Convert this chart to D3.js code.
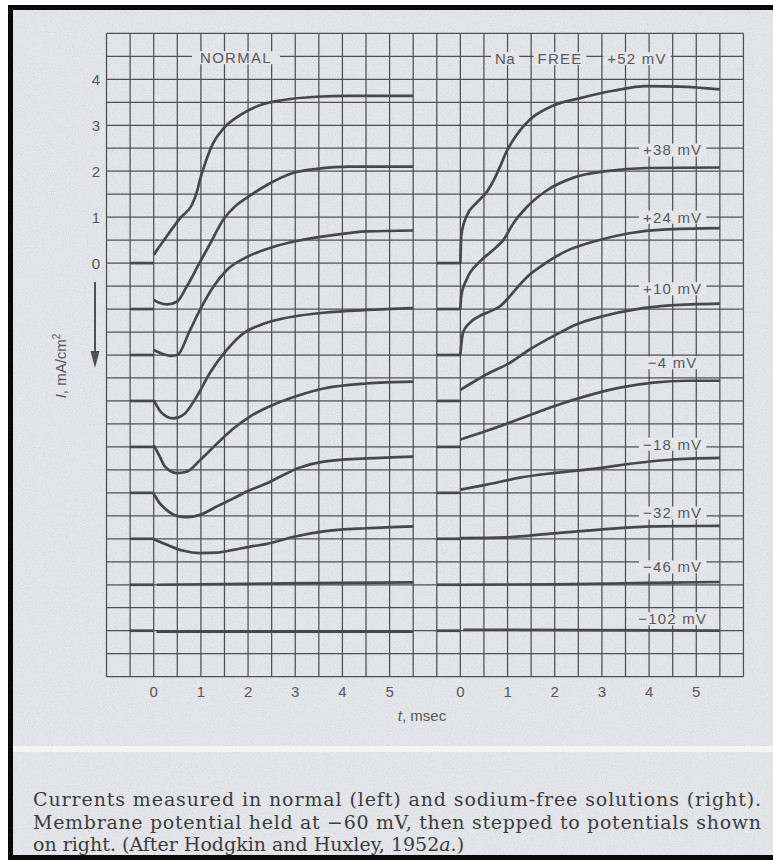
<!DOCTYPE html>
<meta charset="utf-8">
<script src="https://cdn.jsdelivr.net/npm/d3@7/dist/d3.min.js"></script>
<style>
body { margin: 0; background: #fff; }
.grid line { stroke: #505052; stroke-width: 1.25; }
.trace { fill: none; stroke: #48484a; stroke-width: 2.7; stroke-linecap: butt; }
.lab { font-family: "Liberation Sans", Arial, sans-serif; font-size: 15px; fill: #58585a; }
.caption { font-family: "DejaVu Serif", serif; fill: #3c3c3e; }
</style>
<body></body>
<script>
// step potentials, top to bottom
var potentials = ["+52 mV", "+38 mV", "+24 mV", "+10 mV", "\u22124 mV", "\u221218 mV", "\u221232 mV", "\u221246 mV", "\u2212102 mV"];
// baseline of each trace on the current axis (mA/cm2)
var offsets = [0, -1, -2, -3, -4, -5, -6, -7, -8];
var xTicks = [0, 1, 2, 3, 4, 5];
var yTicks = [0, 1, 2, 3, 4];

// [t msec, current above baseline]
var normal = [
  [[0,0.18],[0.28,0.59],[0.56,0.98],[0.81,1.27],[0.91,1.53],[0.98,1.81],[1.09,2.17],[1.26,2.61],[1.48,2.93],[1.83,3.22],[2.26,3.44],[2.75,3.55],[3.45,3.62],[4.16,3.64],[5.5,3.64]],
  [[0,0.2],[0.13,0.13],[0.28,0.1],[0.49,0.16],[0.7,0.49],[0.98,1.02],[1.19,1.41],[1.47,1.94],[1.73,2.24],[2.0,2.44],[2.4,2.7],[2.95,2.96],[3.46,3.05],[4.16,3.1],[5.5,3.1]],
  [[0,0.11],[0.2,0.02],[0.35,-0.02],[0.5,0.0],[0.77,0.54],[0.98,0.98],[1.26,1.48],[1.55,1.85],[1.97,2.13],[2.53,2.35],[3.03,2.48],[3.8,2.61],[4.52,2.69],[5.5,2.71]],
  [[0,0.02],[0.17,-0.26],[0.41,-0.38],[0.63,-0.3],[0.91,0.09],[1.19,0.61],[1.55,1.11],[1.9,1.47],[2.25,1.65],[2.68,1.78],[3.1,1.86],[3.6,1.92],[4.51,1.98],[5.5,2.02]],
  [[0,0.04],[0.13,-0.21],[0.24,-0.43],[0.49,-0.57],[0.7,-0.54],[0.98,-0.29],[1.33,0.06],[1.69,0.4],[2.04,0.66],[2.61,0.95],[3.1,1.13],[3.6,1.27],[4.51,1.38],[5.5,1.42]],
  [[0,-0.02],[0.13,-0.23],[0.27,-0.37],[0.49,-0.5],[0.7,-0.53],[0.98,-0.48],[1.33,-0.3],[1.69,-0.12],[2.04,0.06],[2.4,0.21],[2.75,0.39],[3.1,0.55],[3.6,0.68],[4.51,0.75],[5.5,0.79]],
  [[0,-0.01],[0.28,-0.13],[0.63,-0.26],[0.98,-0.31],[1.33,-0.3],[1.69,-0.24],[2.04,-0.17],[2.4,-0.11],[2.95,0.04],[3.6,0.16],[4.51,0.23],[5.5,0.27]],
  [[0.06,0],[2,0.02],[4,0.04],[5.5,0.05]],
  [[0.06,-0.02],[5.5,-0.02]]
];
var naFree = [
  [[0,0],[0.02,0.6],[0.13,1.02],[0.35,1.32],[0.56,1.55],[0.73,1.85],[0.84,2.1],[0.98,2.43],[1.19,2.79],[1.47,3.12],[1.97,3.43],[2.54,3.59],[3.24,3.75],[3.95,3.85],[4.65,3.84],[5.5,3.78]],
  [[0,0],[0.02,0.3],[0.13,0.64],[0.41,1.03],[0.7,1.29],[0.91,1.5],[1.12,1.86],[1.41,2.22],[1.83,2.58],[2.4,2.86],[3.1,3.0],[3.95,3.07],[5.5,3.08]],
  [[0,0],[0.02,0.23],[0.06,0.5],[0.2,0.7],[0.41,0.85],[0.63,0.95],[0.84,1.06],[1.05,1.28],[1.26,1.53],[1.47,1.75],[1.69,1.92],[2.24,2.26],[2.87,2.48],[3.58,2.65],[4.29,2.73],[5.5,2.76]],
  [[0,0.24],[0.56,0.58],[1.05,0.83],[1.47,1.12],[1.97,1.41],[2.47,1.67],[3.04,1.85],[3.74,2.0],[4.45,2.08],[5.5,2.12]],
  [[0,0.16],[0.56,0.35],[1.05,0.53],[1.62,0.75],[2.11,0.93],[2.68,1.11],[3.38,1.29],[4.09,1.4],[4.8,1.44],[5.5,1.44]],
  [[0,0.07],[0.56,0.18],[1.26,0.33],[1.97,0.43],[2.96,0.54],[3.74,0.65],[4.45,0.72],[5.5,0.76]],
  [[0,0.015],[0.98,0.03],[1.97,0.12],[2.96,0.2],[4.09,0.27],[5.5,0.28]],
  [[0,0],[2,0.01],[4,0.04],[5.5,0.06]],
  [[0.06,0.02],[5.5,0.0]]
];
var captionLines = [
  "Currents measured in normal (left) and sodium-free solutions (right).",
  "Membrane potential held at \u221260 mV, then stepped to potentials shown",
  "on right. (After Hodgkin and Huxley, 1952"
];

var W = 773, H = 860;
var paper = "#e4e5e9";

var svg = d3.select("body").append("svg")
    .attr("width", W)
    .attr("height", H);

// paper speckle
var f = svg.append("defs").append("filter").attr("id", "grain")
    .attr("x", 0).attr("y", 0).attr("width", "100%").attr("height", "100%");
f.append("feTurbulence").attr("type", "fractalNoise").attr("baseFrequency", 0.95).attr("numOctaves", 2).attr("seed", 3);
f.append("feColorMatrix").attr("type", "matrix")
    .attr("values", "0 0 0 0 0.4  0 0 0 0 0.4  0 0 0 0 0.42  0 0 0 -1.6 0.8");

svg.append("rect").attr("width", W).attr("height", H).attr("fill", "#fff");
svg.append("rect").attr("x", 8).attr("y", 5).attr("width", W - 8).attr("height", H - 5).attr("fill", "#0a0a0a");
svg.append("rect").attr("x", 13).attr("y", 10).attr("width", W - 13).attr("height", 845).attr("fill", paper);
svg.append("rect").attr("x", 13).attr("y", 10).attr("width", W - 13).attr("height", 845).attr("filter", "url(#grain)").attr("opacity", 0.3);
svg.append("rect").attr("x", 13).attr("y", 746).attr("width", W - 13).attr("height", 6).attr("fill", "#f4f4f5");

// scales: left panel time, right panel is the same grid shifted 6.5 msec
var xL = d3.scaleLinear().domain([0, 5]).range([153.7, 389.6]);
var xR = d3.scaleLinear().domain([0, 5]).range([xL(6.5), xL(11.5)]);
var y = d3.scaleLinear().domain([0, 4]).range([263.1, 79.3]);

var gridT = d3.range(-1, 12.51, 0.5);
var gridV = d3.range(5, -9.01, -0.5);

var grid = svg.append("g").attr("class", "grid");
grid.selectAll(".v").data(gridT).enter().append("line")
    .attr("x1", function(d) { return xL(d); })
    .attr("x2", function(d) { return xL(d); })
    .attr("y1", y(5)).attr("y2", y(-9));
grid.selectAll(".h").data(gridV).enter().append("line")
    .attr("x1", xL(-1)).attr("x2", xL(12.5))
    .attr("y1", function(d) { return y(d); })
    .attr("y2", function(d) { return y(d); });

var line = function(xs, off) {
  return d3.line()
      .x(function(d) { return xs(d[0]); })
      .y(function(d) { return y(d[1] + off); })
      .curve(d3.curveMonotoneX);
};

function drawPanel(data, xs) {
  var g = svg.append("g");
  data.forEach(function(pts, i) {
    var off = offsets[i];
    g.append("path").attr("class", "trace")
        .attr("d", line(xs, off)([[-0.5, 0], [0, 0]]));
    g.append("path").attr("class", "trace")
        .attr("d", line(xs, off)(pts));
  });
  g.selectAll(".xt").data(xTicks).enter().append("text")
      .attr("class", "lab")
      .attr("text-anchor", "middle")
      .attr("x", function(d) { return xs(d); })
      .attr("y", 697)
      .text(function(d) { return d; });
}
drawPanel(normal, xL);
drawPanel(naFree, xR);

// y ticks
svg.selectAll(".yt").data(yTicks).enter().append("text")
    .attr("class", "lab")
    .attr("text-anchor", "end")
    .attr("x", 100)
    .attr("y", function(d) { return y(d) + 5.4; })
    .text(function(d) { return d; });

// labels sitting on grid lines, with paper showing behind them
function label(txt, cx, cy, pad, spacing) {
  var g = svg.append("g");
  var t = g.append("text").attr("class", "lab")
      .attr("text-anchor", "middle")
      .attr("x", cx).attr("y", cy + 5.4)
      .style("letter-spacing", spacing + "px")
      .text(txt);
  var b = t.node().getBBox();
  g.insert("rect", "text")
      .attr("x", b.x - pad).attr("y", cy - 6.5)
      .attr("width", b.width + 2 * pad).attr("height", 13)
      .attr("fill", paper);
}
label("NORMAL", 236, y(4.47), 8, 1.3);
label("Na", 505, y(4.45), 4, 0.5);
label("FREE", 560, y(4.45), 4, 1.2);
label(potentials[0], 637, y(4.45), 4, 1.2);

// row positions (grid units) of the remaining potential labels
var labelRows = [2.46, 1.0, -0.56, -2.17, -3.94, -5.44, -6.61, -7.74];
labelRows.forEach(function(v, i) {
  label(potentials[i + 1], xR(4.5), y(v), 4, 1.2);
});

// y axis title and inward-current arrow
var yt = svg.append("text").attr("class", "lab")
    .attr("transform", "translate(66,366) rotate(-90)")
    .attr("text-anchor", "middle");
yt.append("tspan").style("font-style", "italic").text("I");
yt.append("tspan").text(", mA/cm");
yt.append("tspan").attr("dy", -6).style("font-size", "10px").text("2");

svg.append("line").attr("x1", 95).attr("x2", 95).attr("y1", 282).attr("y2", 356)
    .attr("stroke", "#505052").attr("stroke-width", 2);
svg.append("path").attr("d", "M90.5,351L99.5,351L95,368Z").attr("fill", "#505052");

var xt = svg.append("text").attr("class", "lab")
    .attr("text-anchor", "middle")
    .attr("x", 422).attr("y", 721);
xt.append("tspan").style("font-style", "italic").text("t");
xt.append("tspan").text(", msec");

// caption
var cap = svg.append("g").attr("class", "caption");
var probe = cap.append("text").style("font-size", "17px").text(captionLines[0]);
var fs = 17 * 728 / probe.node().getComputedTextLength();
fs = Math.max(15, Math.min(19, fs));
probe.remove();
var base = [806, 828.5, 851];
captionLines.forEach(function(s, i) {
  var t = cap.append("text")
      .attr("x", 33).attr("y", base[i])
      .style("font-size", fs + "px")
      .text(s);
  if (i < 2) t.attr("textLength", 728).attr("lengthAdjust", "spacing");
  if (i == 2) {
    t.append("tspan").style("font-style", "italic").text("a");
    t.append("tspan").text(".)");
  }
});
</script>
